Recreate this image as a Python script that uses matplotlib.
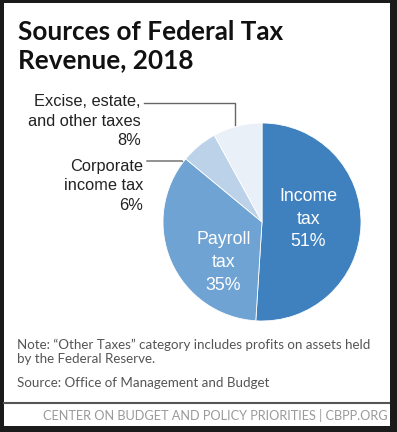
import numpy as np
import matplotlib.pyplot as plt
from matplotlib.patches import Rectangle
from matplotlib.lines import Line2D

# data
categories = ["Income\ntax", "Payroll\ntax", "Corporate\nincome tax", "Excise, estate,\nand other taxes"]
shares = [51, 35, 6, 8]
colors = ["#3f80bf", "#6fa3d3", "#bcd2e8", "#eaf0f8"]

W, H = 397, 432
fig = plt.figure(figsize=(W / 100, H / 100), dpi=100)
fig.patch.set_facecolor("#1b1b1b")

# overlay axes in pixel coords (y down)
ov = fig.add_axes([0, 0, 1, 1])
ov.set_xlim(0, W)
ov.set_ylim(H, 0)
ov.axis("off")
ov.add_patch(Rectangle((4, 3), 386, 423, facecolor="white", edgecolor="none", zorder=0))

# pie
cx, cy, r = 262, 222, 99
pax = fig.add_axes([(cx - r) / W, (H - cy - r) / H, 2 * r / W, 2 * r / H])
pax.pie(shares, colors=colors, startangle=90, counterclock=False,
        wedgeprops=dict(linewidth=0.6, edgecolor="white"))
pax.set_xlim(-1, 1)
pax.set_ylim(-1, 1)
pax.set_aspect("auto")
pax.axis("off")

cond = ["Liberation Sans", "DejaVu Sans"]

# title
ov.text(18, 40, "Sources of Federal Tax", fontsize=18.8, fontweight="bold",
        family=["Lato", "DejaVu Sans"], color="#111111", va="baseline")
ov.text(18, 68, "Revenue, 2018", fontsize=18.8, fontweight="bold",
        family=["Lato", "DejaVu Sans"], color="#111111", va="baseline")

# inside labels
pax.text(0.47, 0.03, "Income\ntax\n51%", color="white", fontsize=12.8, family=cond,
         ha="center", va="center", linespacing=1.45)
pax.text(-0.39, -0.41, "Payroll\ntax\n35%", color="white", fontsize=12.8, family=cond,
         ha="center", va="center", linespacing=1.45)

# outside labels
ov.text(141, 121, "Excise, estate,\nand other taxes\n8%", color="#222222", fontsize=11.8,
        family=cond, ha="right", va="center", linespacing=1.35)
ov.text(143, 186, "Corporate\nincome tax\n6%", color="#222222", fontsize=11.8,
        family=cond, ha="right", va="center", linespacing=1.35)

lc = "#666666"
ov.add_line(Line2D([144, 235, 235], [103, 103, 130], color=lc, lw=1))
ov.add_line(Line2D([147, 182, 185], [161, 161, 163], color=lc, lw=1))

# notes
note_font = ["Lato", "DejaVu Sans"]
ov.text(17, 345, "Note: \u201cOther Taxes\u201d category includes profits on assets held",
        fontsize=9.6, color="#555555", va="center", family=note_font)
ov.text(17, 359, "by the Federal Reserve.", fontsize=9.6, color="#555555", va="center",
        family=note_font)
ov.text(17, 383, "Source: Office of Management and Budget", fontsize=9.6, color="#555555",
        va="center", family=note_font)

ov.add_line(Line2D([4, 390], [402.5, 402.5], color="#555555", lw=1.5))
ov.text(388, 416, "CENTER ON BUDGET AND POLICY PRIORITIES | CBPP.ORG", fontsize=9.2,
        color="#9a9a9a", va="center", ha="right", family=note_font)

# dark border on the right
ov.add_patch(Rectangle((390, 0), 7, H, facecolor="#1b1b1b", edgecolor="none", zorder=5))

fig.savefig("out.png", dpi=100)
